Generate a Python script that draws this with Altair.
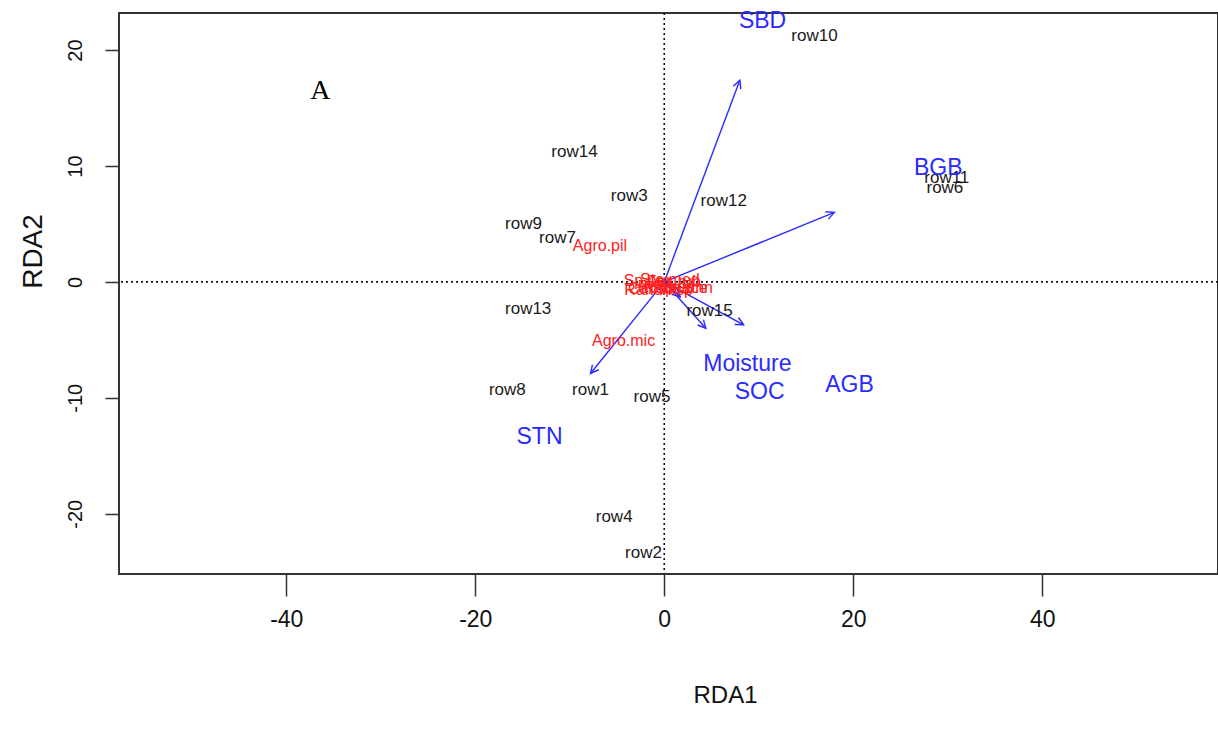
import math
import altair as alt
import pandas as pd

# ---------------- data ----------------
site_names = ["row1", "row2", "row3", "row4", "row5", "row6", "row7", "row8",
              "row9", "row10", "row11", "row12", "row13", "row14", "row15"]
site_x = [-7.8, -2.2, -3.7, -5.3, -1.3, 29.7, -11.3, -16.6,
          -14.9, 15.9, 29.9, 6.3, -14.4, -9.5, 4.8]
site_y = [-9.3, -23.4, 7.4, -20.3, -9.9, 8.1, 3.8, -9.3,
          5.0, 21.2, 9.0, 7.0, -2.3, 11.2, -2.5]

species_names = ["Agro.pil", "Agro.mic", "Sp.pra", "Ranun.sp", "Rum.ace",
                 "Ste.med", "Poa.ann", "Car.sp", "Ran.rep", "Fes.rub"]
species_x = [-6.8, -4.3, -1.8, -0.6, 1.2, 0.6, 2.0, -1.4, 0.2, 1.0]
species_y = [3.1, -5.1, 0.1, -0.7, -0.5, 0.2, -0.5, -0.6, -0.4, 0.0]

env_names = ["SBD", "BGB", "STN", "Moisture", "SOC", "AGB"]
env_arrow_x = [8.0, 18.0, -7.8, 1.7, 4.4, 8.4]
env_arrow_y = [17.4, 6.0, -7.9, -1.3, -4.0, -3.7]
env_label_x = [10.4, 29.0, -13.2, 8.8, 10.1, 19.6]
env_label_y = [22.5, 9.8, -13.4, -7.1, -9.5, -8.9]

panel_label = ["A"]
panel_label_x = [-36.4]
panel_label_y = [16.5]

x_ticks = [-40, -20, 0, 20, 40]
y_ticks = [-20, -10, 0, 10, 20]
zero_line = [0]

# ---------------- layout ----------------
X_DOMAIN = [-57.7, 58.6]
Y_DOMAIN = [-25.2, 23.2]
W, H = 1099, 561
LEFT, TOP = 119, 13
SX = W / (X_DOMAIN[1] - X_DOMAIN[0])
SY = H / (Y_DOMAIN[1] - Y_DOMAIN[0])

SANS = "Liberation Sans, Arial, Helvetica, sans-serif"

xs = alt.Scale(domain=X_DOMAIN, nice=False, zero=False)
ys = alt.Scale(domain=Y_DOMAIN, nice=False, zero=False)

x_axis = alt.Axis(values=x_ticks, title="RDA1", grid=False, domain=False,
                  tickSize=22, tickColor="#333333", tickWidth=1.5,
                  labelFont=SANS, labelFontSize=23, labelColor="#111111",
                  labelPadding=12, labelOverlap=False,
                  labelExpr="toString(datum.value)",
                  titleFont=SANS, titleFontSize=24, titleFontWeight="normal",
                  titleColor="#111111", titleX=606, titleY=121,
                  titleAlign="center", titleBaseline="middle")
y_axis = alt.Axis(values=y_ticks, title="RDA2", grid=False, domain=False,
                  tickSize=14, tickColor="#333333", tickWidth=1.5,
                  labelFont=SANS, labelFontSize=20, labelColor="#111111",
                  labelAngle=270, labelAlign="center", labelBaseline="alphabetic",
                  labelPadding=24, labelOverlap=False,
                  labelExpr="toString(datum.value)",
                  titleFont=SANS, titleFontSize=28, titleFontWeight="normal",
                  titleColor="#111111", titleAngle=270, titleX=-86, titleY=238,
                  titleAlign="center", titleBaseline="middle")


def X(field):
    return alt.X(field, type="quantitative", scale=xs, axis=x_axis)


def Y(field):
    return alt.Y(field, type="quantitative", scale=ys, axis=y_axis)


sites = pd.DataFrame({"name": site_names, "x": site_x, "y": site_y})
species = pd.DataFrame({"name": species_names, "x": species_x, "y": species_y})
env = pd.DataFrame({"name": env_names, "ax": env_arrow_x, "ay": env_arrow_y,
                    "lx": env_label_x, "ly": env_label_y, "x0": 0.0, "y0": 0.0})
env["angle"] = [(math.degrees(math.atan2(a * SX, b * SY)) + 360) % 360
                for a, b in zip(env_arrow_x, env_arrow_y)]
panel = pd.DataFrame({"name": panel_label, "x": panel_label_x, "y": panel_label_y})
zeros = pd.DataFrame({"v": zero_line})

vline = alt.Chart(zeros).mark_rule(color="#111111", strokeDash=[2, 3], strokeWidth=1.6).encode(x=X("v"))
hline = alt.Chart(zeros).mark_rule(color="#111111", strokeDash=[2, 3], strokeWidth=1.6).encode(y=Y("v"))

shafts = alt.Chart(env).mark_rule(color="#2a2aff", strokeWidth=1.4).encode(
    x=X("x0"), y=Y("y0"), x2="ax", y2="ay")
heads = alt.Chart(env).mark_point(
    shape="M -0.5 1 L 0 0 L 0.5 1", filled=False, color="#2a2aff",
    strokeWidth=1.4, size=256, opacity=1).encode(
    x=X("ax"), y=Y("ay"), angle=alt.Angle("angle:Q", scale=None))

species_text = alt.Chart(species).mark_text(
    font=SANS, fontSize=16, color="#ff2020", align="center", baseline="middle").encode(
    x=X("x"), y=Y("y"), text="name:N")
site_text = alt.Chart(sites).mark_text(
    font=SANS, fontSize=17, color="#1a1a1a", align="center", baseline="middle").encode(
    x=X("x"), y=Y("y"), text="name:N")
env_text = alt.Chart(env).mark_text(
    font=SANS, fontSize=23, color="#2a2aff", align="center", baseline="middle").encode(
    x=X("lx"), y=Y("ly"), text="name:N")
panel_text = alt.Chart(panel).mark_text(
    font="Liberation Serif, Times New Roman, serif", fontSize=28, color="#000000",
    align="center", baseline="middle").encode(
    x=X("x"), y=Y("y"), text="name:N")

chart = alt.layer(vline, hline, shafts, heads, species_text, site_text, env_text, panel_text).properties(
    width=W, height=H,
    autosize=alt.AutoSizeParams(type="none"),
    padding={"left": LEFT, "top": TOP, "right": 0, "bottom": 753 - TOP - H},
    background="white",
).configure_view(stroke="#333333", strokeWidth=2)

chart.save("out.html", embed_options={"renderer": "svg", "actions": False})
